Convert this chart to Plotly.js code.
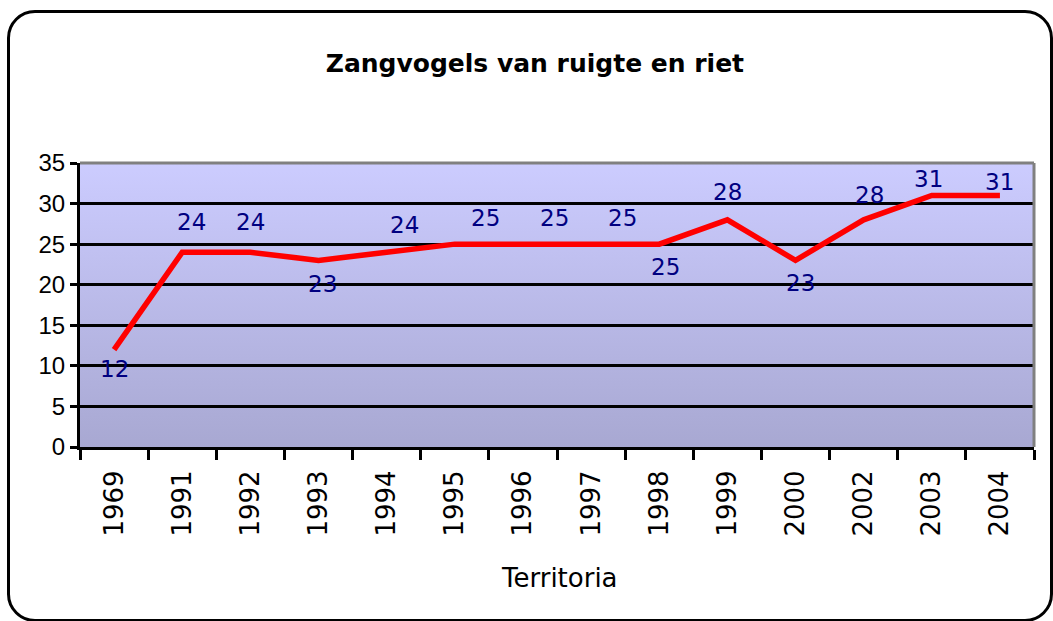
<!DOCTYPE html>
<html>
<head>
<meta charset="utf-8">
<script src="https://cdn.plot.ly/plotly-3.0.1.min.js"></script>
<style>
html, body { margin:0; padding:0; background:#ffffff; }
#wrap { position:relative; width:1053px; height:621px; overflow:hidden; }
#frame { position:absolute; left:7px; top:10px; width:1046px; height:612px; box-sizing:border-box;
  border:3px solid #000; border-radius:28px; }
#chart { position:absolute; left:0; top:0; width:1053px; height:621px; }
</style>
</head>
<body>
<div id="wrap">
  <div id="frame"></div>
  <div id="chart"></div>
</div>
<script>
// ---- data ----
const years = ['1969','1991','1992','1993','1994','1995','1996','1997','1998','1999','2000','2002','2003','2004'];
const territoria = [12, 24, 24, 23, 24, 25, 25, 25, 25, 28, 23, 28, 31, 31];
const chartTitle = 'Zangvogels van ruigte en riet';
const xTitle = 'Territoria';

// ---- label styling (offsets in px) ----
const labelDx = [0, 9, 0, 4, 18, 31, 32, 31, 6, 0, 5, 6, -3, 0];
const labelDy = [19, -30, -30, 24, -27, -26, -26, -26, 23, -28, 23, -25, -16, -13];

const comic = '"DejaVu Sans", sans-serif';
const navy = '#000080';

const grad = "<svg xmlns='http://www.w3.org/2000/svg' width='100' height='100' preserveAspectRatio='none'>" +
  "<defs><linearGradient id='g' x1='0' y1='0' x2='0' y2='1'>" +
  "<stop offset='0' stop-color='#CCCCFF'/><stop offset='1' stop-color='#A8A8D2'/></linearGradient></defs>" +
  "<rect width='100' height='100' fill='url(#g)'/></svg>";
const gradSrc = 'data:image/svg+xml;charset=utf-8,' + encodeURIComponent(grad);

const annotations = years.map((y, i) => ({
  x: i, y: territoria[i], xref: 'x', yref: 'y',
  text: String(territoria[i]), showarrow: false,
  xanchor: 'center', yanchor: 'middle',
  xshift: labelDx[i], yshift: -labelDy[i],
  font: { family: comic, size: 23, color: navy }
}));
annotations.push({
  text: xTitle, xref: 'paper', yref: 'paper', x: 0.503, y: -0.461,
  xanchor: 'center', yanchor: 'middle', showarrow: false,
  font: { family: comic, size: 26, color: '#000' }
});

const trace = {
  x: years, y: territoria, type: 'scatter', mode: 'lines',
  line: { color: '#FF0000', width: 5.5 },
  hoverinfo: 'x+y'
};

const layout = {
  width: 1053, height: 621,
  margin: { l: 80, r: 19, t: 163, b: 174 },
  paper_bgcolor: 'rgba(0,0,0,0)',
  plot_bgcolor: 'rgba(0,0,0,0)',
  showlegend: false,
  title: {
    text: '<b>' + chartTitle + '</b>',
    x: 0.508, xref: 'container', xanchor: 'center',
    y: 1 - 63/621, yref: 'container', yanchor: 'middle',
    font: { family: comic, size: 25, color: '#000' }
  },
  xaxis: {
    type: 'category',
    range: [-0.5, 13.5],
    tickson: 'boundaries',
    ticks: 'outside', ticklen: 10, tickwidth: 3, tickcolor: '#000',
    tickangle: -90,
    ticklabelstandoff: 10,
    tickfont: { family: comic, size: 26, color: '#000' },
    showgrid: false,
    showline: true, linecolor: '#000', linewidth: 3,
    zeroline: false, fixedrange: true
  },
  yaxis: {
    range: [0, 35], dtick: 5, tick0: 0,
    ticks: 'outside', ticklen: 7, tickwidth: 3, tickcolor: '#000',
    tickfont: { family: '"Liberation Sans", Arial, sans-serif', size: 24, color: '#000' },
    showgrid: true, gridcolor: '#000', gridwidth: 3,
    showline: true, linecolor: '#000', linewidth: 3,
    zeroline: false, fixedrange: true
  },
  images: [{
    source: gradSrc, xref: 'paper', yref: 'paper',
    x: 0, y: 1, sizex: 1, sizey: 1, xanchor: 'left', yanchor: 'top',
    sizing: 'stretch', layer: 'below'
  }],
  shapes: [
    { type: 'line', xref: 'paper', yref: 'paper', x0: 0, x1: 1, y0: 1, y1: 1,
      line: { color: '#808080', width: 3 } },
    { type: 'line', xref: 'paper', yref: 'paper', x0: 1, x1: 1, y0: 0, y1: 1,
      line: { color: '#808080', width: 3 } }
  ],
  annotations: annotations
};

Plotly.newPlot('chart', [trace], layout, { displayModeBar: false, staticPlot: true });
</script>
</body>
</html>
